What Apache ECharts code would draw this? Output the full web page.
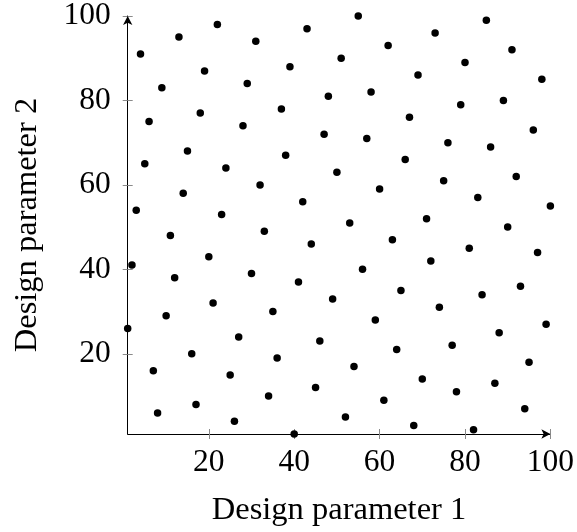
<!DOCTYPE html>
<html>
<head>
<meta charset="utf-8">
<title>Design parameters</title>
<script src="https://cdn.jsdelivr.net/npm/echarts@6/dist/echarts.min.js"></script>
<style>
  html, body { margin: 0; padding: 0; background: #fff; }
  #chart { width: 577px; height: 532px; }
</style>
</head>
<body>
<div id="chart"></div>
<script>
// lattice points (integer valued, 1..100)
const xValues = [22, 13, 31, 4, 19, 9, 29, 18, 6, 28, 15, 55, 43, 62, 51, 39, 58, 48, 37, 67,
  47, 57, 38, 85, 73, 91, 80, 69, 98, 89, 79, 96, 76, 86, 5, 24, 32, 14, 3, 23,
  33, 11, 20, 2, 30, 12, 66, 50, 60, 42, 53, 63, 44, 56, 41, 65, 49, 75, 92, 83,
  100, 71, 90, 81, 97, 72, 93, 84, 21, 10, 1, 27, 16, 7, 25, 34, 17, 8, 26, 35,
  59, 46, 36, 64, 54, 45, 61, 52, 40, 68, 74, 99, 88, 77, 95, 70, 78, 87, 94, 82]
const yValues = [98, 95, 94, 91, 87, 83, 84, 77, 75, 74, 68, 100, 97, 93, 90, 88, 82, 81, 78, 76,
  72, 71, 67, 99, 96, 92, 89, 86, 85, 80, 79, 73, 70, 69, 65, 64, 60, 58, 54, 53,
  49, 48, 43, 41, 39, 38, 66, 63, 59, 56, 51, 47, 46, 40, 37, 35, 33, 61, 62, 57,
  55, 52, 50, 45, 44, 42, 36, 34, 32, 29, 26, 24, 20, 16, 15, 10, 8, 6, 4, 30,
  28, 23, 19, 21, 17, 12, 9, 5, 1, 3, 31, 27, 25, 22, 18, 14, 11, 13, 7, 2]
const tickValues = [20, 40, 60, 80, 100]
const xName = 'Design parameter 1'
const yName = 'Design parameter 2'

const fontFamily = '"Liberation Serif", "DejaVu Serif", serif'
const tickColor = '#8a8a8a'

const points = xValues.map((x, i) => [x, yValues[i]])

// main axis: line + arrow + labels + outer half of the ticks
function mainAxis(name, gap) {
  return {
    type: 'value',
    min: 1,
    max: 100,
    name: name,
    nameLocation: 'middle',
    nameGap: gap,
    nameTextStyle: { fontFamily, fontSize: 32.5, color: '#000' },
    splitLine: { show: false },
    axisLine: {
      show: true,
      symbol: ['none', 'arrow'],
      symbolSize: [7, 9],
      lineStyle: { color: '#000', width: 1 }
    },
    axisTick: {
      show: true,
      inside: false,
      length: 5,
      customValues: tickValues,
      lineStyle: { color: tickColor }
    },
    axisLabel: {
      fontFamily,
      fontSize: 31.5,
      color: '#000',
      margin: 12,
      customValues: tickValues
    }
  }
}

// second copy only for the inner half of the ticks (pgfplots ticks cross the axis)
function innerTicks() {
  return {
    type: 'value',
    min: 1,
    max: 100,
    axisLine: { show: false },
    splitLine: { show: false },
    axisLabel: { show: false },
    axisTick: {
      show: true,
      inside: true,
      length: 5,
      customValues: tickValues,
      lineStyle: { color: tickColor }
    }
  }
}

const chart = echarts.init(document.getElementById('chart'))
const xMain = mainAxis(xName, 60)
xMain.axisLabel.margin = 13
const yMain = mainAxis(yName, 84)
yMain.axisLabel.margin = 17

chart.setOption({
  animation: false,
  backgroundColor: '#fff',
  grid: {
    left: 127.7,
    right: 23.6,
    top: 15,
    bottom: 92.5,
    containLabel: false
  },
  xAxis: [
    Object.assign(xMain, { position: 'bottom' }),
    Object.assign(innerTicks(), { position: 'bottom' })
  ],
  yAxis: [
    Object.assign(yMain, { position: 'left' }),
    Object.assign(innerTicks(), { position: 'left' })
  ],
  series: [{
    type: 'scatter',
    data: points,
    symbol: 'circle',
    symbolSize: 7.5,
    itemStyle: { color: '#000', opacity: 1 }
  }]
})
</script>
</body>
</html>
